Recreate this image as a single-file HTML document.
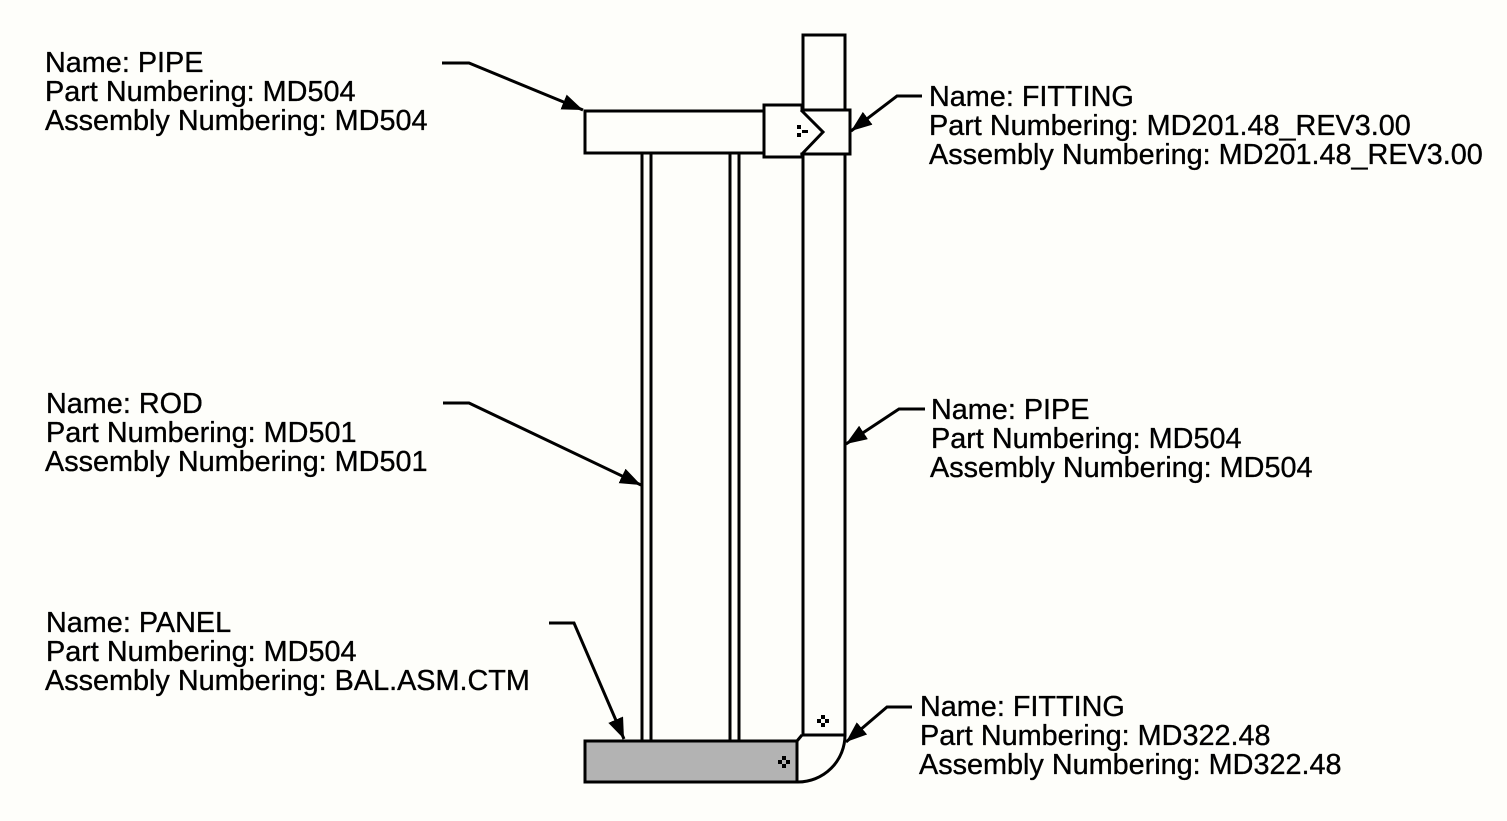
<!DOCTYPE html>
<html><head><meta charset="utf-8"><style>
html,body{margin:0;padding:0;background:#fefefa;}
svg{display:block;}
text{font-family:"Liberation Sans",Arial,sans-serif;font-size:28.8px;fill:#000;stroke:#000;stroke-width:0.35px;}
</style></head><body>
<svg width="1507" height="821" viewBox="0 0 1507 821" xmlns="http://www.w3.org/2000/svg">
<defs>
<marker id="ah" markerUnits="userSpaceOnUse" markerWidth="24" markerHeight="18" refX="21" refY="8" orient="auto">
<path d="M0,0 L21,8 L0,16 z" fill="#000"/>
</marker>
</defs>
<rect width="1507" height="821" fill="#fefefa"/>
<g stroke="#000" stroke-width="3" fill="#fefefa" stroke-linejoin="miter">
<rect x="803" y="35" width="42" height="700"/>
<rect x="585" y="111" width="179" height="42"/>
<line x1="642" y1="153" x2="642" y2="740"/>
<line x1="651" y1="153" x2="651" y2="740"/>
<line x1="730" y1="153" x2="730" y2="740"/>
<line x1="739" y1="153" x2="739" y2="740"/>
<path d="M764,105 L802,105 L802,110 L850,110 L850,154 L802,154 L802,157 L764,157 Z"/>
<polyline points="801,110 823,132 801,155" fill="none"/>
<rect x="585" y="741" width="212" height="41" fill="#b3b3b3"/>
<path d="M845,735 A47,47 0 0 1 798,782" fill="none"/>
<line x1="797" y1="741" x2="802" y2="735"/>
</g>
<g fill="#000">
<rect x="797" y="125" width="4" height="4"/><rect x="797" y="133" width="4" height="4"/><rect x="802" y="130" width="6" height="3"/>
<rect x="821" y="715" width="4" height="4"/><rect x="817" y="719" width="4" height="4"/><rect x="825" y="719" width="4" height="4"/><rect x="821" y="723" width="4" height="4"/>
<rect x="782" y="756" width="4" height="4"/><rect x="778" y="760" width="4" height="4"/><rect x="786" y="760" width="4" height="4"/><rect x="782" y="764" width="4" height="4"/>
</g>
<g stroke="#000" stroke-width="3" fill="none">
<polyline points="442,63 469,63 583,110" marker-end="url(#ah)"/>
<polyline points="922,96 897,96 851,131" marker-end="url(#ah)"/>
<polyline points="443,403 469,403 641,485" marker-end="url(#ah)"/>
<polyline points="925,409 899,409 846,444" marker-end="url(#ah)"/>
<polyline points="549,623 574,623 624,739" marker-end="url(#ah)"/>
<polyline points="912,707 887,707 846,742" marker-end="url(#ah)"/>
</g>
<text x="45" y="72">Name: PIPE</text>
<text x="45" y="101">Part Numbering: MD504</text>
<text x="45" y="130">Assembly Numbering: MD504</text>

<text x="929" y="106">Name: FITTING</text>
<text x="929" y="135">Part Numbering: MD201.48_REV3.00</text>
<text x="929" y="164">Assembly Numbering: MD201.48_REV3.00</text>

<text x="46" y="413">Name: ROD</text>
<text x="46" y="442">Part Numbering: MD501</text>
<text x="45" y="471">Assembly Numbering: MD501</text>

<text x="931" y="419">Name: PIPE</text>
<text x="931" y="448">Part Numbering: MD504</text>
<text x="930" y="477">Assembly Numbering: MD504</text>

<text x="46" y="632">Name: PANEL</text>
<text x="46" y="661">Part Numbering: MD504</text>
<text x="45" y="690">Assembly Numbering: BAL.ASM.CTM</text>

<text x="920" y="716">Name: FITTING</text>
<text x="920" y="745">Part Numbering: MD322.48</text>
<text x="919" y="774">Assembly Numbering: MD322.48</text>
</svg>
</body></html>
